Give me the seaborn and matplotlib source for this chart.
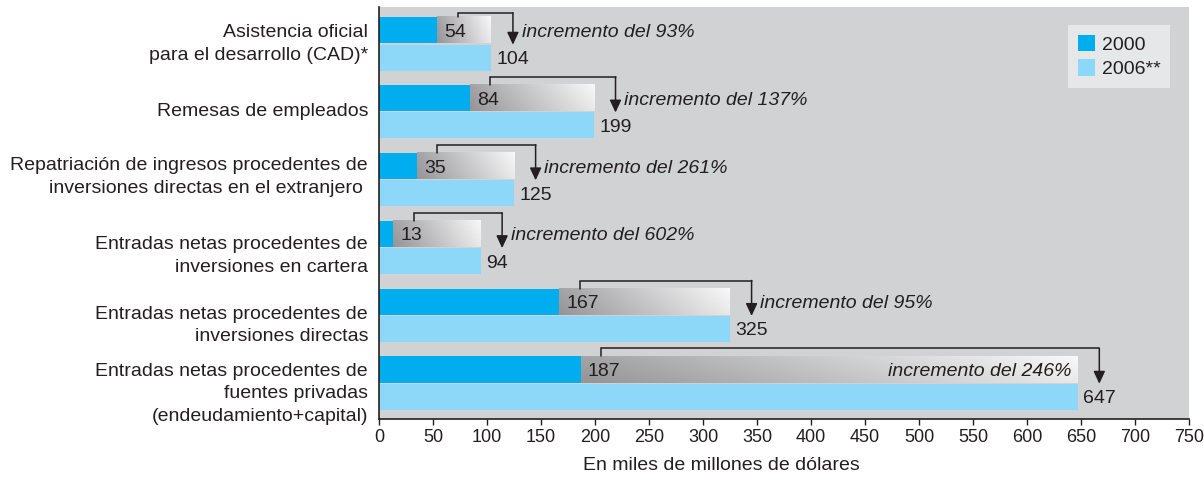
import numpy as np
import pandas as pd
import matplotlib
matplotlib.use("Agg")
import matplotlib.pyplot as plt
from matplotlib.colors import LinearSegmentedColormap
from matplotlib.patches import Patch
import seaborn as sns

# Chart data
categories = [
    "Asistencia oficial\npara el desarrollo (CAD)*",
    "Remesas de empleados",
    "Repatriación de ingresos procedentes de\ninversiones directas en el extranjero ",
    "Entradas netas procedentes de\ninversiones en cartera",
    "Entradas netas procedentes de\ninversiones directas",
    "Entradas netas procedentes de\nfuentes privadas\n(endeudamiento+capital)",
]
years = ["2000", "2006**"]
vals_2000 = [54, 84, 35, 13, 167, 187]
vals_2006 = [104, 199, 125, 94, 325, 647]
increments = ["93%", "137%", "261%", "602%", "95%", "246%"]
x_ticks = list(range(0, 751, 50))

df = pd.DataFrame({
    "categoria": categories * 2,
    "anio": [years[0]] * len(categories) + [years[1]] * len(categories),
    "valor": vals_2000 + vals_2006,
})

sns.set_style("white")
plt.rcParams["font.family"] = ["Liberation Sans", "DejaVu Sans"]
ink = "#231f20"
palette = ["#00aeef", "#8dd8f8"]

fig = plt.figure(figsize=(12.04, 4.8), dpi=100)
ax = fig.add_axes([0.3148, 0.1271, 0.6727, 0.8583])
ax.set_facecolor("#d1d2d4")

sns.barplot(data=df, y="categoria", x="valor", hue="anio", hue_order=years,
            order=categories, orient="h", palette=palette, saturation=1,
            width=0.8, gap=0.04, errorbar=None, linewidth=0, legend=False, ax=ax)

# grey gradient bar from the 2000 value up to the 2006 value
gx = np.linspace(0, 1, 256)
gy = np.linspace(0, 1, 16)
grad = 0.85 * gx[None, :] + 0.15 * (1 - gy[:, None])
cmap = LinearSegmentedColormap.from_list("gris", ["#959597", "#c6c6c8", "#f8f8f8"])

bh = 0.384
for i, (v0, v1, inc) in enumerate(zip(vals_2000, vals_2006, increments)):
    top = i - 0.2 - bh / 2
    bot = i - 0.2 + bh / 2
    ax.imshow(grad, cmap=cmap, extent=(v0, v1, bot, top), origin="upper",
              aspect="auto", zorder=2, interpolation="bilinear")

    # bracket arrow
    xs = v0 + 19
    xa = v1 + 20
    yt = max(top - 0.12, -0.46)
    ax.plot([xs, xs, xa], [top, yt, yt], color=ink, lw=1.1, zorder=4,
            solid_joinstyle="miter")
    ax.annotate("", xy=(xa, i + 0.01), xytext=(xa, yt),
                arrowprops=dict(arrowstyle="-|>,head_length=0.75,head_width=0.35",
                                color=ink, lw=1.1, shrinkA=0, shrinkB=0,
                                mutation_scale=10), zorder=4)

    ax.text(v0 + 6.5, i - 0.2, f"{v0}", va="center_baseline", ha="left",
            fontsize=14, color=ink, zorder=5)
    ax.text(v1 + 5, i + 0.2, f"{v1}", va="center_baseline", ha="left",
            fontsize=14, color=ink, zorder=5)
    label = f"incremento del {inc}"
    if v1 + 200 > 750:
        ax.text(v1 - 6, i - 0.2, label, va="center_baseline", ha="right",
                fontsize=14, style="italic", color=ink, zorder=5)
    else:
        ax.text(xa + 8, i - 0.2, label, va="center_baseline", ha="left",
                fontsize=14, style="italic", color=ink, zorder=5)

ax.set_xlim(0, 750)
ax.set_xticks(x_ticks)
ax.set_ylim(5.53, -0.546)

ax.tick_params(axis="x", direction="out", bottom=True, length=4.5, width=1,
               color=ink, labelsize=13, pad=3, labelcolor=ink)
ax.tick_params(axis="y", left=False, length=0, labelleft=False)

# category labels (the lower ones sit a bit below their bars, as in the original)
label_shift = [0.0, 0.0, -0.04, 0.13, 0.15, 0.16]
ytrans = matplotlib.transforms.blended_transform_factory(ax.transAxes, ax.transData)
for i, (cat, dy) in enumerate(zip(categories, label_shift)):
    ax.text(-0.0135, i + dy, cat, transform=ytrans, ha="right", va="center",
            fontsize=14, color=ink, linespacing=1.44)

sns.despine(ax=ax)
for side in ["left", "bottom"]:
    ax.spines[side].set_color(ink)
    ax.spines[side].set_linewidth(1.2)

ax.set_ylabel("")
ax.set_xlabel("En miles de millones de dólares", fontsize=14, color=ink)
ax.xaxis.set_label_coords(0.423, -0.092)

handles = [Patch(facecolor=c, edgecolor="none") for c in palette]
leg = ax.legend(handles, years, loc="upper right", bbox_to_anchor=(0.977, 0.956),
                borderaxespad=0, fontsize=14, frameon=True, fancybox=False,
                facecolor="#e6e7e8", edgecolor="none", framealpha=1,
                handlelength=0.9, handleheight=0.9, handletextpad=0.35,
                labelspacing=0.3, borderpad=0.5)
for t in leg.get_texts():
    t.set_color(ink)

fig.savefig("out.png", dpi=100)
